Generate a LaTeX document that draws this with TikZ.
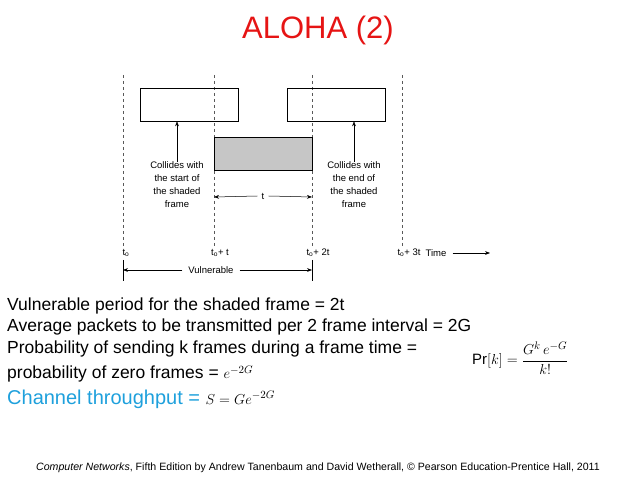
\documentclass[tikz,border=0pt]{standalone}
\usepackage{fontspec}
\setmainfont{Liberation Sans}
\newfontfamily\serifm{Liberation Serif}
\usetikzlibrary{arrows.meta}
\definecolor{titlered}{RGB}{230,20,20}
\definecolor{cyanb}{RGB}{30,160,220}
\begin{document}
\begin{tikzpicture}[x=1pt,y=-1pt,
  vline/.style={dashed,gray!70!black,line width=0.5pt},
  frm/.style={draw,line width=0.6pt},
  lbl/.style={font=\fontsize{9.5}{13}\selectfont,align=center,inner sep=0pt},
  arr/.style={-{Stealth[length=5pt]},line width=0.5pt},
  body/.style={anchor=west,font=\fontsize{17.5}{20}\selectfont,inner sep=0pt}]
\useasboundingbox (0,0) rectangle (638,478);
\node[font=\fontsize{31}{34}\selectfont,text=titlered] (title) at (318,30) {ALOHA (2)};
% dashed lines
\draw[vline] (123,75) -- (123,248);
\draw[vline] (214,75) -- (214,248);
\draw[vline] (312,75) -- (312,248);
\draw[vline] (402,75) -- (402,248);
\node[frm,minimum width=98,minimum height=33,inner sep=0] (b1) at (189,104.5) {};
\node[frm,minimum width=98,minimum height=33,inner sep=0] (b2) at (336,104.5) {};
\node[frm,fill=gray!45,minimum width=98,minimum height=33,inner sep=0] (sh) at (263,153.5) {};
\node[lbl] (c1) at (177,185) {Collides with\\the start of\\the shaded\\frame};
\node[lbl] (c2) at (354,185) {Collides with\\the end of\\the shaded\\frame};
\draw[arr] (c1.north) -- (b1.south -| c1.north);
\draw[arr] (c2.north) -- (b2.south -| c2.north);
\node[lbl] (tl) at (263,196) {t};
\coordinate (tA) at (214,197); \coordinate (tB) at (312,197);
\draw[arr] (tl.west) ++(-4,0) -- (tA);
\draw[arr] (tl.east) ++(4,0) -- (tB);
\node[lbl] (l0) at (126,253) {t\textsubscript{o}};
\node[lbl] (l1) at (220,253) {t\textsubscript{o}+ t};
\node[lbl] (l2) at (318,253) {t\textsubscript{o}+ 2t};
\node[lbl] (l3) at (409,253) {t\textsubscript{o}+ 3t};
\node[lbl] (time) at (436,253) {Time};
\coordinate (tend) at (490,253);
\draw[arr] (time.east) ++(6,0) -- (tend);
\draw[line width=0.5pt] (123,260) -- (123,281);
\draw[line width=0.5pt] (312,260) -- (312,281);
\node[lbl] (vul) at (211,270) {Vulnerable};
\coordinate (vA) at (123,270); \coordinate (vB) at (312,270);
\draw[arr] (vul.west) ++(-6,0) -- (vA);
\draw[arr] (vul.east) ++(6,0) -- (vB);
% text
\node[body] (t1) at (7,306) {Vulnerable period for the shaded frame = 2t};
\node[body] (t2) at (7,327) {Average packets to be transmitted per 2 frame interval = 2G};
\node[body] (t3) at (7,349) {Probability of sending k frames during a frame time =};
\node[body] (t4) at (7,374) {probability of zero frames = \fontsize{15}{17}\selectfont $e^{-2G}$};
\node[body,font=\fontsize{20}{23}\selectfont,text=cyanb] (t5) at (7,399) {Channel throughput = \textcolor{black}{\fontsize{15}{17}\selectfont $S=Ge^{-2G}$}};
\node[anchor=west,inner sep=0pt,font=\fontsize{15}{17}\selectfont] (pr) at (472,358) {$\displaystyle\mathrm{Pr}[k]=\frac{G^k\,e^{-G}}{k!}$};
\node[font=\fontsize{10.6}{12}\selectfont,inner sep=0pt] (foot) at (318,468) {\textit{Computer Networks}, Fifth Edition by Andrew Tanenbaum and David Wetherall, © Pearson Education-Prentice Hall, 2011};
\end{tikzpicture}
\end{document}
